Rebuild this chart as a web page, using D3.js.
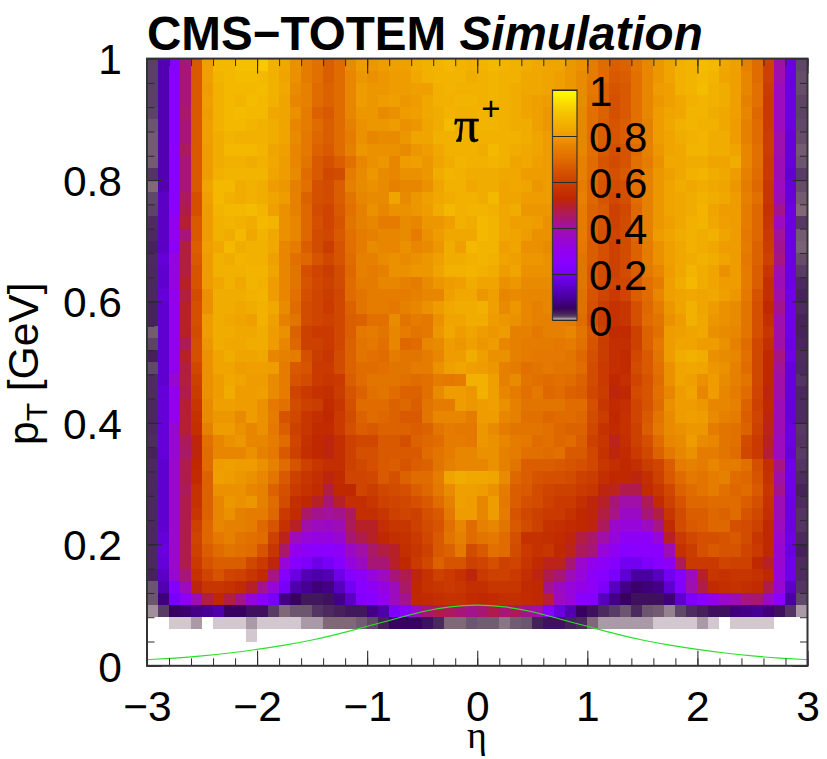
<!DOCTYPE html>
<html>
<head>
<meta charset="utf-8">
<script src="https://cdn.jsdelivr.net/npm/d3@7"></script>
<style>
  html, body { margin: 0; padding: 0; background: #fff; }
  text { font-family: "Liberation Sans", Arial, sans-serif; fill: #000; }
  #cells { filter: blur(0.35px); }
</style>
</head>
<body>
<div id="chart"></div>
<script>
// acceptance in percent. 60 eta bins, pT rows from top (0.98-1) down
const etaEdges = d3.range(61).map(i => -3 + i * 0.1);
const ptEdges = d3.range(51).map(i => i * 0.02);

const acceptance = [
[1.7,12,25,44,66,81,87,87,89,89,91,85,83,78,74,71,67,70,77,80,79,80,81,81,84,85,86,87,86,85,86,87,86,85,84,83,82,82,79,78,74,70,67,68,72,76,79,82,85,86,88,87,83,81,75,70,60,40,17,1.5],
[1.7,12,25,44,66,81,86,87,88,88,87,85,82,78,74,71,67,70,76,79,78,79,80,80,83,85,86,86,86,84,85,86,85,85,83,83,82,81,79,77,74,70,66,67,71,76,79,82,85,86,87,86,82,81,76,70,60,39,17,1.4],
[1.7,12,25,44,66,80,85,87,87,87,88,85,83,77,75,70,68,70,76,80,79,79,80,80,81,81,85,86,85,85,85,86,85,84,83,83,82,81,79,77,73,68,65,66,71,76,80,81,85,86,88,85,84,81,76,71,59,37,17,1.4],
[1.7,12,25,44,66,81,85,87,86,88,87,85,82,76,75,70,68,70,76,80,79,80,81,79,80,83,85,85,86,86,85,86,85,84,82,81,80,80,79,77,72,68,64,66,71,76,79,81,83,85,86,85,84,81,75,71,58,37,17,1.6],
[1.6,12,25,45,66,80,85,87,88,87,87,83,82,78,74,68,66,70,76,79,79,77,78,80,81,83,84,86,85,85,86,85,85,84,82,81,79,80,84,76,71,68,64,66,71,76,80,82,83,86,86,84,83,81,76,69,58,37,17,1.6],
[1.3,12,25,44,66,81,85,87,87,86,85,84,82,76,74,70,67,70,75,78,79,79,80,78,79,82,84,88,85,85,86,86,85,84,84,81,79,79,80,76,71,67,65,67,71,75,80,83,85,86,85,85,83,80,75,70,58,37,17,1.5],
[1.2,12,25,44,66,81,84,86,85,85,85,84,82,77,73,69,67,70,74,78,76,77,77,79,82,82,85,85,85,85,85,85,85,85,84,82,80,81,79,76,71,67,65,67,72,75,80,82,84,85,86,84,84,80,75,70,59,39,16,1.4],
[1.2,12,26,46,66,80,84,87,87,87,86,82,81,76,73,68,66,70,75,79,78,78,78,77,79,80,83,85,85,85,84,87,85,84,83,82,80,80,79,76,71,66,64,65,70,75,79,82,83,86,86,84,84,82,76,71,59,39,16,1.2],
[1.2,12,25,44,66,80,84,85,85,84,85,83,80,76,72,66,64,67,71,76,78,79,76,80,81,79,82,84,86,85,85,86,85,82,83,81,80,79,78,75,70,65,63,65,71,74,78,83,83,84,84,82,82,84,76,71,58,38,16,1.3],
[2.0,12,25,44,66,80,85,86,86,86,86,82,80,77,70,66,62,63,74,77,79,77,76,78,78,79,84,86,85,84,84,84,83,83,80,80,80,79,78,75,70,66,64,66,70,75,79,81,83,85,86,84,83,80,75,70,58,38,15,1.8],
[1.0,12,25,44,66,82,87,87,84,85,84,80,79,75,71,64,63,67,75,77,78,77,75,76,76,78,82,85,85,83,84,84,82,83,82,79,80,79,77,74,69,65,63,64,71,75,79,82,84,83,84,83,82,79,74,69,57,37,16,1.4],
[1.5,14,25,46,64,81,87,85,84,85,84,82,80,75,68,64,63,67,72,76,77,77,82,77,79,81,83,84,85,85,84,87,82,82,80,80,80,79,76,75,69,65,62,64,70,75,79,82,83,84,85,84,83,80,75,71,57,38,16,1.2],
[1.6,14,26,47,64,80,86,87,87,88,86,81,78,75,69,63,61,66,71,75,78,76,78,78,79,80,84,87,85,86,86,85,83,84,79,79,79,78,76,74,68,66,60,62,69,75,79,82,83,84,86,82,80,80,74,69,56,42,17,1.0],
[2.2,14,30,49,66,80,85,86,85,84,87,86,78,76,69,64,61,65,72,75,76,74,74,77,76,79,79,81,85,84,87,86,83,81,81,80,78,78,76,74,68,65,60,63,69,75,79,81,83,85,86,83,81,80,74,69,57,37,17,1.9],
[2.4,14,30,44,66,80,85,84,87,83,86,83,78,76,69,63,62,66,71,74,75,76,76,77,74,78,80,83,83,83,87,86,83,82,80,78,78,78,76,74,68,64,61,63,69,75,80,82,84,85,84,85,82,80,73,69,58,41,17,1.2],
[2.8,14,27,48,67,81,83,87,84,85,85,83,76,74,67,63,59,65,71,74,77,76,76,78,76,77,79,84,81,87,86,86,81,82,78,78,77,78,76,73,67,64,60,63,68,74,78,81,83,85,84,83,80,80,74,68,59,42,17,1.1],
[2.4,16,32,48,66,80,85,84,86,85,85,81,76,71,69,65,62,65,70,75,75,77,78,77,78,79,81,84,84,85,86,85,82,81,79,79,78,78,75,72,67,64,60,63,68,74,78,81,83,84,85,84,82,80,73,68,60,43,17,1.4],
[2.5,15,32,48,65,80,85,85,85,86,86,82,76,72,64,61,59,63,69,75,74,75,78,78,79,79,82,85,85,86,85,84,80,82,78,78,78,77,75,72,66,63,60,63,67,73,76,80,83,86,84,82,78,80,74,67,57,39,17,1.8],
[2.5,15,32,50,65,80,83,85,83,86,85,80,76,72,65,62,60,63,70,74,74,76,76,75,74,77,79,80,81,84,82,82,78,79,77,77,77,76,75,72,66,63,61,62,66,71,74,81,84,87,84,82,80,80,74,67,55,38,17,2.4],
[2.5,16,30,48,63,78,84,84,84,85,86,80,76,71,64,61,59,62,70,72,74,74,74,74,75,76,76,81,83,83,79,81,76,77,76,76,76,75,74,71,65,61,58,61,67,70,76,81,82,83,82,83,81,79,73,65,55,40,18,2.8],
[2.8,15,30,50,64,78,84,84,83,84,85,83,77,70,63,61,58,62,68,72,74,74,73,75,76,78,80,83,84,84,85,81,77,79,76,75,76,75,74,71,64,59,56,57,64,69,74,79,82,85,82,80,78,77,72,64,53,42,18,2.3],
[2.8,15,30,50,64,80,84,83,82,81,85,81,75,72,63,61,60,62,67,68,71,71,77,72,74,73,78,82,82,84,84,80,79,78,76,75,75,75,74,70,63,59,56,57,64,70,72,78,80,85,83,79,78,77,72,64,55,39,18,2.8],
[1.2,15,30,50,63,80,84,84,83,83,84,80,78,68,60,58,58,62,67,73,74,72,76,74,72,73,79,83,80,82,80,79,80,75,75,73,75,75,76,72,66,60,54,54,60,68,71,80,81,82,83,78,77,76,72,64,57,40,18,2.8],
[1.6,15,30,46,64,79,84,83,83,84,84,80,76,69,60,60,58,62,68,72,73,71,76,69,70,76,77,80,79,81,79,80,76,75,74,74,74,73,74,71,65,59,55,55,60,68,73,80,82,82,80,80,78,75,70,62,55,40,17,2.6],
[3,15,30,50,64,78,82,84,82,82,83,76,75,74,64,59,57,63,68,72,71,70,74,72,72,74,76,80,80,84,81,78,78,75,74,73,73,73,72,69,64,59,55,54,62,66,72,80,84,85,84,78,77,76,71,62,53,43,18,2.3],
[1.5,15,30,48,62,78,82,82,80,81,81,80,74,66,65,58,58,63,68,70,70,71,72,72,74,74,78,81,82,81,80,79,75,74,71,72,73,72,72,70,63,58,55,54,63,66,71,78,82,83,82,79,78,75,70,62,53,41,16,2.4],
[2.2,15,34,48,60,78,80,83,82,80,80,77,74,65,63,58,57,58,67,70,72,72,72,71,70,71,74,73,74,85,85,81,75,77,72,71,70,71,70,68,63,58,53,55,61,65,70,78,82,81,78,80,77,75,72,62,53,40,16,2],
[2.2,16,30,47,59,78,80,84,80,80,81,77,74,61,58,56,55,59,65,68,71,72,70,68,68,71,77,80,80,79,85,81,76,74,71,73,69,70,68,67,62,59,52,53,63,65,71,76,80,82,76,80,76,74,70,61,52,40,16,2.5],
[2.5,16,30,49,57,77,81,81,80,80,78,73,71,63,60,59,54,57,64,70,70,70,68,69,67,72,74,74,80,79,80,81,78,75,72,72,72,72,70,70,64,57,54,55,61,65,70,78,80,80,79,76,76,75,68,60,53,38,16,2.3],
[2.5,16,30,49,56,77,79,79,77,80,78,74,65,62,57,55,53,58,63,68,70,69,68,66,66,72,76,76,76,74,80,80,76,75,71,71,69,70,70,69,63,59,53,56,61,66,72,77,80,81,80,77,75,74,67,61,52,38,16,2.3],
[2.5,16,34,49,55,75,80,80,78,76,78,73,67,60,57,54,54,58,64,67,66,68,68,68,67,68,72,74,73,73,79,77,74,72,72,72,71,69,68,68,62,56,54,56,60,67,73,77,78,79,79,74,72,71,68,60,51,38,17,1.9],
[2.2,16,34,46,52,71,76,78,79,76,76,74,70,61,56,53,52,55,60,62,62,66,66,64,68,69,70,74,74,73,79,78,76,74,73,70,71,69,70,67,60,57,51,55,60,64,70,76,77,80,77,76,72,71,63,58,50,37,17,2.0],
[2.8,16,34,45,52,70,76,76,76,78,75,73,66,60,55,53,52,55,60,64,64,66,66,66,66,70,72,74,76,76,78,78,75,74,71,71,70,71,66,66,62,56,52,54,58,62,68,73,76,78,74,74,72,70,62,58,49,37,16,1.8],
[2.5,15,35,47,53,70,80,81,80,80,78,75,70,65,60,57,55,55,60,62,64,66,67,65,67,68,72,75,76,76,76,78,75,72,67,67,67,66,65,64,62,57,55,53,55,59,61,67,74,75,74,76,74,74,71,64,55,43,18,2],
[2.5,15,35,47,54,68,81,80,79,78,76,72,66,60,57,55,52,54,61,61,62,66,64,68,70,70,74,82,84,83,83,82,77,69,67,65,64,64,63,60,59,55,53,53,52,55,60,66,70,73,72,74,75,70,69,65,56,40,18,2.2],
[2.5,15,35,46,56,68,78,78,78,76,75,68,64,58,56,54,48,53,53,61,59,62,63,64,67,69,73,77,81,81,80,78,74,67,66,63,61,60,60,58,57,52,51,47,47,54,57,62,68,70,72,74,71,69,70,66,57,42,18,2.8],
[2.5,15,35,47,56,68,76,79,78,79,75,70,63,55,53,50,44,50,55,55,57,60,61,62,64,66,70,75,81,80,76,80,73,67,64,63,60,58,58,55,52,50,44,40,40,46,54,60,65,69,69,70,70,70,67,64,56,38,17,2.3],
[2.5,15,35,47,57,68,76,78,75,74,74,69,58,54,45,42,41,42,46,55,55,57,60,61,60,64,66,73,80,80,76,80,74,65,62,60,58,58,56,53,52,48,43,36,36,44,48,57,63,67,67,69,68,70,65,62,55,38,17,2],
[2.5,15,35,47,60,69,76,75,75,74,69,65,56,50,40,37,36,38,46,50,50,55,57,57,60,63,65,71,76,70,75,76,72,66,63,60,56,55,54,53,52,46,35,33,33,37,43,54,63,66,67,69,69,64,63,60,53,37,17,2],
[2.5,16,35,47,61,69,73,75,72,71,70,60,51,37,33,32,32,34,44,47,50,53,55,56,58,62,66,72,75,70,72,73,70,64,56,56,55,54,52,48,45,40,33,28,28,27,33,50,58,62,64,64,65,66,63,57,53,35,18,2.5],
[2.5,17,35,47,60,67,70,72,71,70,65,57,45,30,27,26,26,28,36,40,45,48,50,55,57,60,66,68,73,63,66,71,70,63,58,56,57,53,51,46,44,33,29,25,26,26,26,38,56,59,64,66,65,65,61,58,53,34,17,3],
[2.5,16,35,47,58,65,67,67,67,62,58,52,33,24,22,18,20,24,32,36,44,44,50,53,58,62,68,65,65,60,61,64,60,61,57,54,51,51,44,35,30,27,24,19,19,22,25,27,46,58,58,58,61,60,60,53,50,34,18,2.3],
[2.8,14,34,44,56,61,65,61,60,57,54,43,24,17,12,11,12,18,24,27,33,37,44,47,52,56,60,58,56,52,58,60,60,58,55,52,47,44,38,33,27,25,21,15,10,10,13,19,24,37,50,57,56,57,57,56,53,33,18,2.2],
[1.3,12,23,37,52,57,57,56,54,50,42,33,20,11,9,7,8,13,19,25,28,32,37,45,53,56,57,58,57,55,55,57,57,57,54,53,42,36,33,31,28,22,13,8,6,7,8,15,23,39,47,54,55,56,55,54,47,34,14,2],
[1.3,7,20,28,38,48,53,48,42,33,25,20,8,5,3.5,3.5,4,8,14,23,25,30,37,42,53,54,55,56,56,54,53,54,55,55,54,53,49,37,33,25,24,13,8,5,4,4,4,7,15,22,25,30,35,38,43,44,36,26,10,1.5],
[0.7,1.8,5,6,8,9,11,5,5,4,4,1.8,1,1.3,1.3,2,2.5,3,3.5,3.5,8,11,22,26,37,44,47,46,44,42,44,47,44,46,42,40,24,17,12,5,4,2.5,1.8,1.3,2.5,1.3,1.2,0.8,1.5,2.2,3,4,4,7,8,9,7,4,2,0.6],
[0,0,.3,.3,.6,0,.3,.3,.3,.6,.3,.3,.3,.3,.6,.6,1,1,1,1.2,1.5,3,5,5,5,4,2.5,1,1,1.3,1.2,1.2,.9,1.2,1.3,3,4,4,3,2.5,1,.6,.6,.6,.6,.6,.3,.3,.3,.3,.6,.3,0,.3,.3,.3,.3,0,0,0],
[0,0,0,0,0,0,0,0,0,.3,0,0,0,0,0,0,0,0,0,0,0,0,0,0,0,0,0,0,0,0,0,0,0,0,0,0,0,0,0,0,0,0,0,0,0,0,0,0,0,0,0,0,0,0,0,0,0,0,0,0]
];

// palette stops
const paletteValues = [0, 0.3, 0.6, 1, 1.5, 2.2, 3, 5, 10, 15, 20, 25, 30, 40, 45, 50, 53, 60, 65, 70, 75, 80, 85, 90, 95, 100];
const paletteColors = ["#ffffff", "#d4c8d0", "#aa9aa8", "#806878", "#5f4868", "#4e2c60", "#45205a", "#380060", "#4a00a0", "#6000d0", "#7800f8", "#8800ff", "#9200ee", "#a010a8", "#aa1868", "#b82028", "#c02800", "#cc4000", "#d65400", "#e06c00", "#e68000", "#ee9c00", "#f2b000", "#f6c400", "#fbe000", "#ffff00"];

// green curve
const curveEta = [-3, -2.75, -2.5, -2.25, -2, -1.75, -1.5, -1.25, -1, -0.75, -0.5, -0.25, 0, 0.25, 0.5, 0.75, 1, 1.25, 1.5, 1.75, 2, 2.25, 2.5, 2.75, 3];
const curvePt = [0.01, 0.0127, 0.0163, 0.021, 0.027, 0.034, 0.0425, 0.053, 0.065, 0.077, 0.089, 0.097, 0.1, 0.097, 0.089, 0.077, 0.065, 0.053, 0.0425, 0.034, 0.027, 0.021, 0.0163, 0.0127, 0.01];

const xMajor = [-3, -2, -1, 0, 1, 2, 3];
const yMajor = [0, 0.2, 0.4, 0.6, 0.8, 1];
const zMajor = [0, 0.2, 0.4, 0.6, 0.8, 1];
const xMinor = d3.range(31).map(i => -3 + i * 0.2);
const yMinor = d3.range(26).map(i => i * 0.04);

const chartWidth = 827, chartHeight = 759;
const plotLeft = 147, plotRight = 807.5, plotTop = 58.6, plotBottom = 665.8;

const svg = d3.select("#chart").append("svg")
  .attr("width", chartWidth)
  .attr("height", chartHeight)
  .style("display", "block");

const x = d3.scaleLinear().domain([-3, 3]).range([plotLeft, plotRight]);
const y = d3.scaleLinear().domain([0, 1]).range([plotBottom, plotTop]);
const color = d3.scaleLinear().domain(paletteValues).range(paletteColors);

// heat map
const cells = [];
acceptance.forEach((row, r) => {
  const ptBin = 49 - r;
  row.forEach((value, c) => {
    if (value > 0) cells.push({ c, ptBin, value });
  });
});

svg.append("g")
  .attr("id", "cells")
  .attr("shape-rendering", "crispEdges")
  .selectAll("rect")
  .data(cells)
  .join("rect")
  .attr("x", d => x(etaEdges[d.c]))
  .attr("y", d => y(ptEdges[d.ptBin + 1]))
  .attr("width", d => x(etaEdges[d.c + 1]) - x(etaEdges[d.c]))
  .attr("height", d => y(ptEdges[d.ptBin]) - y(ptEdges[d.ptBin + 1]))
  .attr("fill", d => color(d.value));

// green curve
svg.append("path")
  .datum(curveEta.map((eta, i) => [eta, curvePt[i]]))
  .attr("fill", "none")
  .attr("stroke", "#2be02b")
  .attr("stroke-width", 1.1)
  .attr("d", d3.line().x(d => x(d[0])).y(d => y(d[1])).curve(d3.curveNatural));

// ticks on all four sides, pointing in
function styleAxis(g, sw, labelled) {
  g.select(".domain").remove();
  g.selectAll(".tick line").attr("stroke", "#2a2a2a").attr("stroke-width", sw);
  if (!labelled) g.selectAll(".tick text").remove();
}
const tickFormat = d => String(d).replace("-", "\u2212");

svg.append("g").attr("transform", `translate(0,${plotBottom})`)
  .call(d3.axisBottom(x).tickValues(xMinor).tickSize(-7.5).tickFormat(""))
  .call(styleAxis, 1, false);
svg.append("g").attr("transform", `translate(0,${plotTop})`)
  .call(d3.axisTop(x).tickValues(xMinor).tickSize(-7.5).tickFormat(""))
  .call(styleAxis, 1, false);
svg.append("g").attr("transform", `translate(${plotLeft},0)`)
  .call(d3.axisLeft(y).tickValues(yMinor).tickSize(-7.5).tickFormat(""))
  .call(styleAxis, 1, false);
svg.append("g").attr("transform", `translate(${plotRight},0)`)
  .call(d3.axisRight(y).tickValues(yMinor).tickSize(-7.5).tickFormat(""))
  .call(styleAxis, 1, false);

svg.append("g").attr("transform", `translate(0,${plotTop})`)
  .call(d3.axisTop(x).tickValues(xMajor).tickSize(-15).tickFormat(""))
  .call(styleAxis, 1.1, false);
svg.append("g").attr("transform", `translate(${plotRight},0)`)
  .call(d3.axisRight(y).tickValues(yMajor).tickSize(-15).tickFormat(""))
  .call(styleAxis, 1.1, false);

const xAxis = svg.append("g").attr("transform", `translate(0,${plotBottom})`)
  .call(d3.axisBottom(x).tickValues(xMajor).tickSize(-15).tickPadding(0).tickFormat(tickFormat))
  .call(styleAxis, 1.1, true);
xAxis.selectAll(".tick text")
  .attr("y", 55.5)
  .attr("dy", 0)
  .style("font-family", '"Liberation Sans"')
  .style("font-size", "42.5px");

const yAxis = svg.append("g").attr("transform", `translate(${plotLeft},0)`)
  .call(d3.axisLeft(y).tickValues(yMajor).tickSize(-15).tickFormat(tickFormat))
  .call(styleAxis, 1.1, true);
yAxis.selectAll(".tick text")
  .attr("x", -25)
  .attr("dy", "0.36em")
  .style("font-family", '"Liberation Sans"')
  .style("font-size", "42.5px");

// frame
svg.append("rect")
  .attr("x", plotLeft).attr("y", plotTop)
  .attr("width", plotRight - plotLeft).attr("height", plotBottom - plotTop)
  .attr("fill", "none").attr("stroke", "#333").attr("stroke-width", 2);

// colour bar
const barX = 552.5, barW = 24.5;
const z = d3.scaleLinear().domain([0, 1]).range([320, 90]);
const gradient = svg.append("defs").append("linearGradient")
  .attr("id", "bar").attr("x1", 0).attr("x2", 0).attr("y1", 1).attr("y2", 0);
gradient.selectAll("stop")
  .data(paletteValues)
  .join("stop")
  .attr("offset", d => d / 100)
  .attr("stop-color", d => color(d));
svg.append("rect")
  .attr("x", barX).attr("y", z(1))
  .attr("width", barW).attr("height", z(0) - z(1))
  .attr("fill", "url(#bar)")
  .attr("stroke", "#3a3a30").attr("stroke-width", 1.2);
const zAxis = svg.append("g").attr("transform", `translate(${barX + barW},0)`)
  .call(d3.axisRight(z).tickValues(zMajor).tickSize(-barW).tickFormat(d3.format("")))
  .call(styleAxis, 1, true);
zAxis.selectAll(".tick text")
  .attr("x", 12)
  .attr("dy", "0.36em")
  .attr("text-anchor", "start")
  .style("font-family", '"Liberation Sans"')
  .style("font-size", "42px");

// labels
const title = svg.append("text")
  .attr("x", 147).attr("y", 50)
  .style("font-size", "47.6px").style("font-weight", "bold");
title.append("tspan").text("CMS\u2212TOTEM ");
title.append("tspan").style("font-style", "italic").text("Simulation");

const particle = svg.append("text").attr("x", 454).attr("y", 142);
particle.append("tspan")
  .style("font-family", '"Liberation Serif"')
  .style("font-size", "50px")
  .style("stroke", "#000").style("stroke-width", 0.6)
  .text("\u03c0");
particle.append("tspan").attr("dx", 2).attr("dy", -22).style("font-size", "33px").text("+");

svg.append("text")
  .attr("x", 477).attr("y", 748)
  .attr("text-anchor", "middle")
  .style("font-family", '"Liberation Serif"')
  .style("font-size", "38px")
  .text("\u03b7");

const yTitle = svg.append("text")
  .attr("transform", "translate(38,445) rotate(-90)")
  .style("font-size", "42.5px");
yTitle.append("tspan").text("p");
yTitle.append("tspan").attr("dy", 9).style("font-size", "30px").text("T");
yTitle.append("tspan").attr("dy", -9).text(" [GeV]");
</script>
</body>
</html>
